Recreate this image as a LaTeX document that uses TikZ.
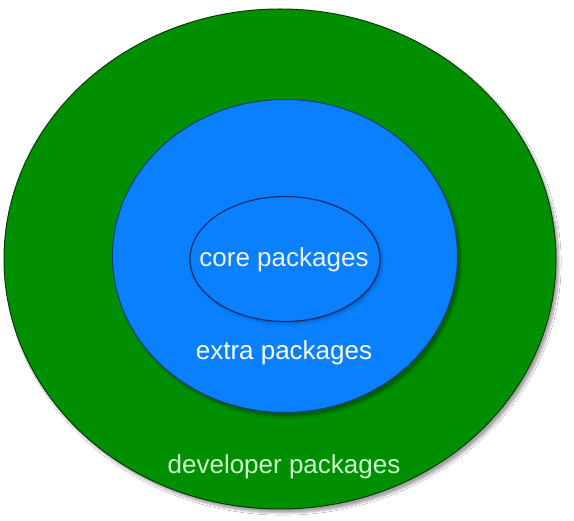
\documentclass[tikz,border=0pt]{standalone}
\usepackage{fontspec}
\setmainfont{Liberation Sans}
\usetikzlibrary{shapes.geometric,shadows.blur}
\definecolor{devgreen}{HTML}{008F00}
\definecolor{devline}{HTML}{0A3A0A}
\definecolor{extblue}{HTML}{0A80FF}
\definecolor{extline}{HTML}{0A3F7A}
\definecolor{coreline}{HTML}{0F2E6E}
\definecolor{devtext}{HTML}{CCFFCC}
\definecolor{coretext}{HTML}{EEF6FF}
\tikzset{
  ring/.style={ellipse, draw, line width=1pt, inner sep=0pt,
    blur shadow={shadow xshift=3pt, shadow yshift=-4pt, shadow blur steps=6, shadow opacity=35}},
  lbl/.style={font=\fontsize{26}{30}\selectfont, inner sep=0pt}
}
\begin{document}
\begin{tikzpicture}[x=1pt,y=-1pt]
\useasboundingbox[fill=white] (0,0) rectangle (574,521);
\node[ring, fill=devgreen, draw=devline, minimum width=552pt, minimum height=500pt] (dev) at (280,259) {};
\node[ring, fill=extblue, draw=extline, minimum width=345pt, minimum height=313pt] (ext) at (285,256) {};
\node[ellipse, draw=coreline, line width=1.2pt, fill=extblue, inner sep=0pt, minimum width=190pt, minimum height=125pt,
  blur shadow={shadow xshift=2pt, shadow yshift=-2pt, shadow blur steps=4, shadow opacity=25}] (core) at (285,259) {};
\node[lbl, text=coretext] (coret) at (284,260) {core packages};
\node[lbl, text=white] (extt) at (284,353) {extra packages};
\node[lbl, text=devtext] (devt) at (284,467) {developer packages};
\end{tikzpicture}
\end{document}
